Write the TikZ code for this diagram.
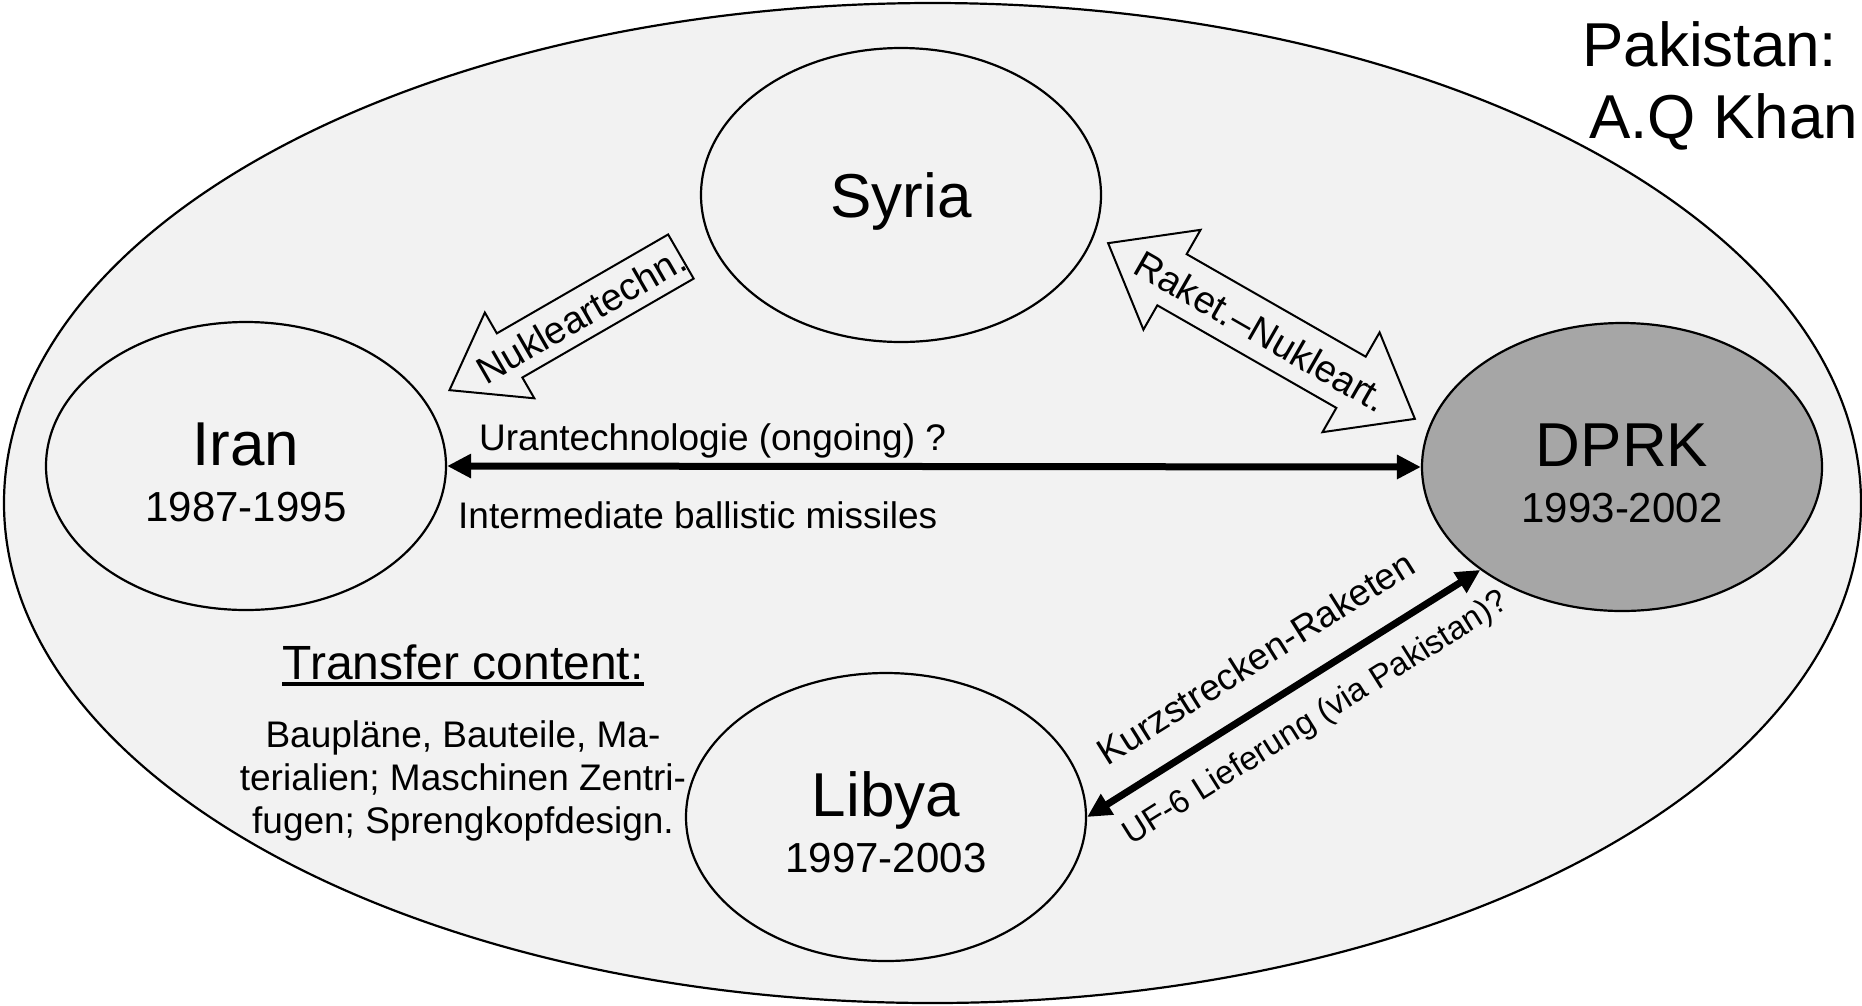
\documentclass[tikz,border=0pt]{standalone}
\usepackage{fontspec}
\setmainfont{Liberation Sans}
\usetikzlibrary{shapes.geometric,shapes.arrows,arrows.meta}
\definecolor{netgray}{HTML}{F2F2F2}
\definecolor{dprkgray}{HTML}{A6A6A6}
\newcommand{\yearfont}{\fontsize{42}{56}\selectfont}
\newcommand{\namestrut}{\rule{0pt}{56pt}}
\newsavebox{\ulinebox}
\newcommand{\ulined}[1]{\sbox{\ulinebox}{#1}\rlap{\rule[-7pt]{\wd\ulinebox}{4.5pt}}\usebox{\ulinebox}}

\begin{document}
\begin{tikzpicture}[x=1pt,y=-1pt]
	\tikzset{
		country/.style={draw, ellipse, line width=2.2pt, inner sep=0pt, minimum width=400pt, minimum height=288pt, align=center, font=\fontsize{62}{56}\selectfont},
		flowarrow/.style={draw, line width=2pt, text height=28pt, text depth=0pt, font=\fontsize{38}{40}\selectfont},
		link/.style={line width=7pt, >={Triangle[length=24pt,width=23pt]}, <->},
		note/.style={inner sep=0pt, font=\fontsize{37}{43}\selectfont}
	}
	\useasboundingbox (0,0) rectangle (1862,1005);
	\node[draw, ellipse, line width=2.2pt, fill=netgray, minimum width=1857pt, minimum height=1000pt] (network) at (932.5,503) {};
	\node[anchor=north west, inner sep=0pt, align=left, font=\fontsize{62}{72}\selectfont] (khan) at (1582,21) {Pakistan:\\\hspace*{7pt}A.Q Khan};

	\node[country, minimum height=294pt, text depth=0pt] (syria) at (901,195) {Syria};
	\node[country] (iran) at (246,466) {\namestrut Iran\\{\yearfont 1987-1995}};
	\node[country, fill=dprkgray] (dprk) at (1622,467) {\namestrut DPRK\\{\yearfont 1993-2002}};
	\node[country] (libya) at (886,817) {\namestrut Libya\\{\yearfont 1997-2003}};

	\node[flowarrow, single arrow, rotate=30, shape border rotate=180, anchor=tip, minimum height=260pt, single arrow head extend=24pt, single arrow tip angle=71, inner xsep=-2.5pt, inner ysep=10.5pt] (nukl) at (448,391) {Nukleartechn.};
	\node[flowarrow, double arrow, rotate=-29.8, minimum height=330pt, double arrow head extend=28pt, double arrow tip angle=76, inner xsep=-3.5pt, inner ysep=14.5pt] (raket) at (1261.5,331) {Raket.–Nukleart.};

	\draw[link] (iran.east) -- (dprk.west);
	\draw[link] (libya.east) -- (dprk.216)
		node[pos=0.49, sloped, above=28pt, inner sep=0pt, font=\fontsize{37}{40}\selectfont] (kurz) {Kurzstrecken-Raketen}
		node[pos=0.53, sloped, below=20pt, inner sep=0pt, font=\fontsize{33}{36}\selectfont] (uf6) {UF-6 Lieferung (via Pakistan)?};

	\node[note, anchor=base west] (uran) at (479,450) {Urantechnologie (ongoing) ?};
	\node[note, anchor=base west] (irbm) at (458,528) {Intermediate ballistic missiles};
	\node[anchor=base, inner sep=0pt, font=\fontsize{48}{55}\selectfont] (transfer) at (463,679) {\ulined{Transfer content:}};
	\node[note, align=center, anchor=north] (content) at (463,720) {Baupläne, Bauteile, Ma-\\terialien; Maschinen Zentri-\\fugen; Sprengkopfdesign.};
\end{tikzpicture}
\end{document}
